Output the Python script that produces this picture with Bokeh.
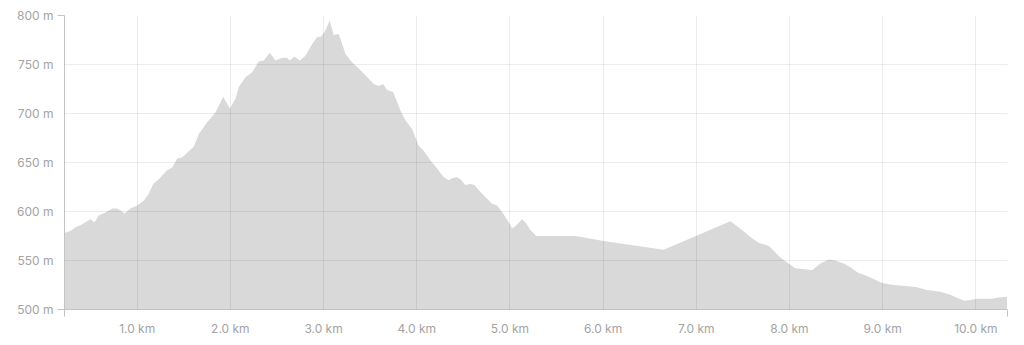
from bokeh.plotting import figure
from bokeh.embed import file_html
from bokeh.resources import INLINE
from bokeh.models import FixedTicker, PrintfTickFormatter, Range1d

# distance along route (km) and elevation (m)
distance_km = [0.22, 0.284, 0.338, 0.392, 0.445, 0.499, 0.542, 0.588, 0.660, 0.732,
               0.785, 0.821, 0.864, 0.928, 1.000, 1.071, 1.124, 1.172, 1.232, 1.322,
               1.376, 1.429, 1.483, 1.536, 1.607, 1.661, 1.751, 1.840, 1.923, 1.994,
               2.055, 2.090, 2.162, 2.234, 2.305, 2.358, 2.423, 2.484, 2.556, 2.609,
               2.637, 2.688, 2.745, 2.806, 2.878, 2.931, 2.967, 3.010, 3.066, 3.109,
               3.163, 3.235, 3.307, 3.378, 3.450, 3.539, 3.592, 3.639, 3.682, 3.747,
               3.825, 3.879, 3.951, 4.021, 4.075, 4.147, 4.219, 4.290, 4.343, 4.380,
               4.433, 4.469, 4.522, 4.576, 4.619, 4.683, 4.755, 4.809, 4.863, 4.927,
               4.987, 5.024, 5.059, 5.131, 5.166, 5.220, 5.284, 5.703, 6.006, 6.650,
               7.366, 7.491, 7.580, 7.669, 7.777, 7.902, 7.974, 8.063, 8.170, 8.242,
               8.331, 8.420, 8.490, 8.582, 8.654, 8.743, 8.815, 8.903, 8.994, 9.118,
               9.244, 9.356, 9.476, 9.619, 9.727, 9.798, 9.877, 9.959, 10.013, 10.174,
               10.228, 10.335]
elevation_m = [578, 580, 584, 586, 589, 592, 589, 596, 599, 603,
               603, 601, 598, 603, 606, 611, 618, 628, 633, 642,
               645, 654, 655, 660, 666, 679, 691, 701, 717, 705,
               715, 727, 737, 742, 753, 754, 762, 754, 757, 757,
               754, 758, 754, 759, 771, 778, 778, 783, 795, 780,
               781, 761, 752, 746, 739, 730, 728, 730, 724, 722,
               703, 693, 684, 667, 662, 652, 644, 635, 632, 634,
               635, 633, 627, 628, 627, 620, 613, 608, 606, 598,
               589, 583, 585, 592, 589, 581, 575, 575, 570, 561,
               590, 581, 574, 568, 565, 553, 548, 542, 541, 540,
               547, 551, 550, 547, 543, 537, 535, 531, 527, 525,
               524, 523, 520, 518, 515, 512, 509, 510, 511, 511,
               512, 513]

x_ticks = [1, 2, 3, 4, 5, 6, 7, 8, 9, 10]
y_ticks = [500, 550, 600, 650, 700, 750, 800]
x_start, x_end = 0.22, 10.34
y_start, y_end = 500, 800

p = figure(width=1024, height=345, output_backend="svg", toolbar_location=None,
           x_range=Range1d(x_start, x_end), y_range=Range1d(y_start, y_end),
           min_border_left=64, min_border_right=17, min_border_top=15,
           min_border_bottom=36)
p.outline_line_color = None
p.background_fill_color = "white"
p.border_fill_color = "white"

p.varea(x=distance_km, y1=y_start, y2=elevation_m, fill_color="#d9d9d9")

font = "Inter"
lab_color = "#a3a3a3"
axis_color = "#c4c4c4"

p.xaxis.ticker = FixedTicker(ticks=x_ticks, minor_ticks=[x_start, x_end])
p.xaxis.formatter = PrintfTickFormatter(format="%.1f km")
p.xaxis.major_tick_line_color = None
p.xaxis.major_tick_out = 0
p.xaxis.major_tick_in = 0
p.xaxis.minor_tick_line_color = axis_color
p.xaxis.minor_tick_out = 7
p.xaxis.minor_tick_in = 0
p.xaxis.axis_line_color = axis_color
p.xaxis.major_label_standoff = 4
p.xaxis.major_label_text_font = font
p.xaxis.major_label_text_font_size = "12px"
p.xaxis.major_label_text_color = lab_color

p.yaxis.ticker = FixedTicker(ticks=y_ticks, minor_ticks=[y_start, y_end])
p.yaxis.formatter = PrintfTickFormatter(format="%d m")
p.yaxis.major_tick_line_color = None
p.yaxis.major_tick_out = 0
p.yaxis.major_tick_in = 0
p.yaxis.minor_tick_line_color = axis_color
p.yaxis.minor_tick_out = 7
p.yaxis.minor_tick_in = 0
p.yaxis.axis_line_color = axis_color
p.yaxis.major_label_standoff = 4
p.yaxis.major_label_text_font = font
p.yaxis.major_label_text_font_size = "12px"
p.yaxis.major_label_text_color = lab_color

p.xgrid.ticker = FixedTicker(ticks=x_ticks)
p.ygrid.ticker = FixedTicker(ticks=y_ticks)
for g in (p.xgrid, p.ygrid):
    g.grid_line_color = "black"
    g.grid_line_alpha = 0.075
    g.level = "overlay"

open("out.html", "w").write(file_html(p, INLINE))
